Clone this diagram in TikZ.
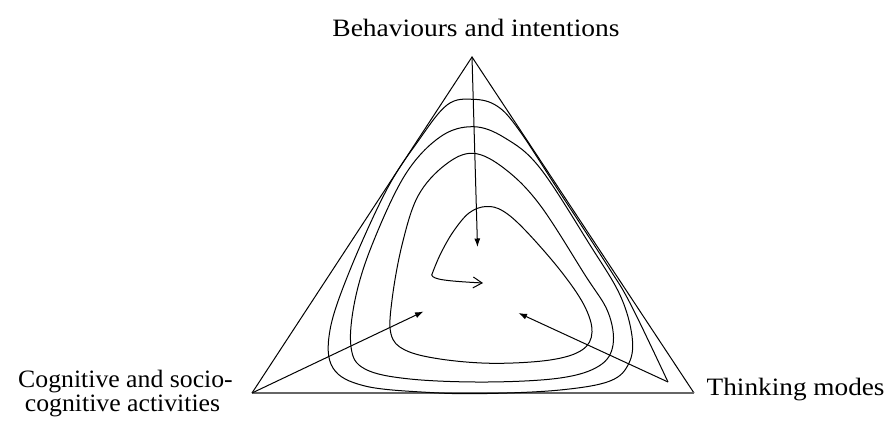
\documentclass[tikz,border=0pt]{standalone}
\usepackage{fontspec}
\setmainfont{Liberation Serif}
\usetikzlibrary{arrows.meta}
\tikzset{
  lbl/.style={inner sep=0pt, font=\fontsize{25}{25}\selectfont},
  thin line/.style={line width=1pt, black},
  headarrow/.style={thin line, -{Latex[length=8.5pt,width=6pt]}},
  openarrow/.style={thin line, -{Straight Barb[length=9pt,width=11pt,line width=1pt]}},
}
\begin{document}
\begin{tikzpicture}[x=1pt,y=-1pt]
\useasboundingbox (0,0) rectangle (891,424);
% triangle vertices
\coordinate (apex) at (472,57);
\coordinate (bl) at (252,393);
\coordinate (br) at (694,393);
% spiral ends and arrow tips
\coordinate (spiralout) at (668,382);
\coordinate (corner) at (431.7,275);
\coordinate (tipc) at (483,283);
\coordinate (tipt) at (477.5,247);
\coordinate (tipl) at (423.5,311.5);
\coordinate (tipr) at (518.5,313);
% labels
\node[lbl, anchor=base] (top) at (476,36) {\scalebox{1.1}[1]{Behaviours and intentions}};
\node[lbl, anchor=base west] (right) at (706.5,395) {\scalebox{1.09}[1]{Thinking modes}};
\node[lbl, anchor=base] (leftA) at (125.5,387) {\scalebox{1.03}[1]{Cognitive and socio-}};
\node[lbl, anchor=base] (leftB) at (122.5,411) {\scalebox{1.03}[1]{cognitive activities}};
% triangle
\draw[thin line] (bl) -- (apex) -- (br);
\draw[line width=1.5pt, black!60] (bl) -- (br);
% spiral
\draw[thin line] plot[smooth, tension=0.6] coordinates {
 (668,382) (631,305) (609,268) (559.5,192) (519,130) (497,106) (473,99.3) (447,105) (417.5,142)
 (386.5,190) (350,270) (330,330) (333,368) (365,386) (430,392.5) (487,393.5) (560,390) (610,381)
 (629,363) (632,336) (620,295) (590,245) (540,168) (505,138) (473.3,126.7) (440,137) (405,175)
 (372,245) (355,300) (351,347) (365,369) (410,379) (487,382) (560,378) (599,366) (613,345) (608,312)
 (585,275) (540,205) (505,169) (473.3,153.3) (445,165) (418,196) (402,245) (392,300) (391,334)
 (405,350) (440,359) (493,363.3) (550,360) (582,350) (592,332) (584,305) (560,270) (525,230)
 (503,211) (486,206.5) (469,213) (453,232) (440,255) (431.7,275)
};
% central arrows
\draw[openarrow] (corner) .. controls (433,279.5) and (446,281) .. (tipc);
\draw[headarrow] (apex) -- (tipt);
\draw[headarrow] (bl) -- (tipl);
\draw[headarrow] (spiralout) -- (tipr);
\end{tikzpicture}
\end{document}
